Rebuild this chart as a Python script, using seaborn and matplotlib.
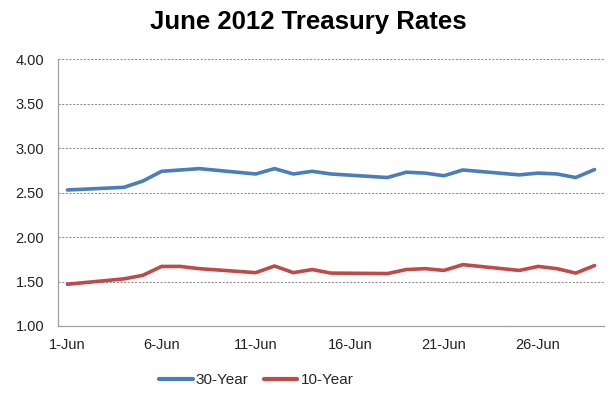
import matplotlib
matplotlib.use("Agg")
import matplotlib.pyplot as plt
import seaborn as sns
import pandas as pd

# Data (June 2012 trading days)
days = [1, 4, 5, 6, 7, 8, 11, 12, 13, 14, 15, 18, 19, 20, 21, 22, 25, 26, 27, 28, 29]
rates_30y = [2.53, 2.56, 2.63, 2.74, 2.755, 2.77, 2.71, 2.77, 2.71, 2.74, 2.71,
             2.67, 2.73, 2.72, 2.69, 2.755, 2.70, 2.72, 2.71, 2.67, 2.76]
rates_10y = [1.47, 1.53, 1.57, 1.67, 1.67, 1.645, 1.60, 1.675, 1.60, 1.635, 1.595,
             1.59, 1.635, 1.645, 1.625, 1.69, 1.625, 1.67, 1.645, 1.595, 1.68]
series_names = ["30-Year", "10-Year"]
tick_days = [1, 6, 11, 16, 21, 26]
tick_labels = ["1-Jun", "6-Jun", "11-Jun", "16-Jun", "21-Jun", "26-Jun"]
y_ticks = [1.0, 1.5, 2.0, 2.5, 3.0, 3.5, 4.0]
title = "June 2012 Treasury Rates"

df = pd.DataFrame({
    "day": days * 2,
    "rate": rates_30y + rates_10y,
    "series": [series_names[0]] * len(days) + [series_names[1]] * len(days),
})

sns.set_style("white")
plt.rcParams["font.family"] = ["Liberation Sans", "DejaVu Sans"]

fig = plt.figure(figsize=(6.16, 3.94), dpi=100)
ax = fig.add_axes([0.0942, 0.1726, 0.9805 - 0.0942, 0.8495 - 0.1726])

palette = {"30-Year": "#4A7EBB", "10-Year": "#BE4B48"}
sns.lineplot(data=df, x="day", y="rate", hue="series", palette=palette,
             linewidth=2.6, ax=ax, legend=True)

ax.set_xlim(0.5, 29.5)
ax.set_ylim(1.0, 4.0)
ax.set_yticks(y_ticks)
ax.set_yticklabels([f"{v:.2f}" for v in y_ticks], fontsize=10.5, color="#222222")
ax.set_xticks(tick_days)
ax.set_xticklabels(tick_labels, fontsize=10.5, color="#222222")
ax.set_xticks([d - 0.5 for d in tick_days], minor=True)
ax.tick_params(axis="x", which="major", length=0, pad=9)
ax.tick_params(axis="x", which="minor", length=4, color="#999999", width=0.8, direction="out")
ax.tick_params(axis="y", which="major", length=4, color="#999999", width=0.8, direction="out", pad=6)
ax.set_xlabel("")
ax.set_ylabel("")

ax.grid(axis="y", color="#8c8c8c", linestyle=(0, (2, 1.5)), linewidth=0.75)
ax.grid(axis="x", visible=False)
ax.set_axisbelow(True)
for s in ["top", "right"]:
    ax.spines[s].set_visible(False)
for s in ["left", "bottom"]:
    ax.spines[s].set_color("#a0a0a0")
    ax.spines[s].set_linewidth(0.9)

fig.suptitle(title, x=0.5, y=0.975, fontsize=18.5, fontweight="bold", color="#000000")

handles, labels = ax.get_legend_handles_labels()
leg = ax.legend(handles, labels, loc="center", bbox_to_anchor=(0.363, -0.203),
                ncol=2, frameon=False, fontsize=11, handlelength=2.2,
                handletextpad=0.2, columnspacing=1.0)
for line in leg.get_lines():
    line.set_linewidth(3)

fig.savefig("out.png", dpi=100)
